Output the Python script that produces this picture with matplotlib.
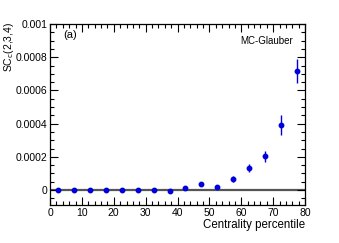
import matplotlib
matplotlib.use("Agg")
import matplotlib.pyplot as plt
from matplotlib.ticker import MultipleLocator, FixedLocator

plt.rcParams['font.family'] = ['Liberation Sans', 'DejaVu Sans']

centrality = [2.5, 7.5, 12.5, 17.5, 22.5, 27.5, 32.5, 37.5,
              42.5, 47.5, 52.5, 57.5, 62.5, 67.5, 72.5, 77.5]
sc_values = [0.0, 0.0, 0.0, 0.0, -0.000001, -0.000002, 0.000001, -0.000005,
             0.00001, 0.000034, 0.000018, 0.000066, 0.000133, 0.000203, 0.000392, 0.000717]
sc_errors = [0.000003, 0.000003, 0.000003, 0.000003, 0.000003, 0.000003, 0.000003, 0.000004,
             0.000006, 0.000008, 0.00001, 0.000018, 0.000026, 0.000032, 0.000058, 0.00007]
xticks = [0, 10, 20, 30, 40, 50, 60, 70, 80]
yticks = [0, 0.0002, 0.0004, 0.0006, 0.0008, 0.001]
ytick_labels = ['0', '0.0002', '0.0004', '0.0006', '0.0008', '0.001']

fig = plt.figure(figsize=(3.39, 2.43), dpi=100)
ax = fig.add_axes([50/339, 1 - 205/243, 255/339, 181/243])

ax.axhline(0, color='#555555', lw=1.6, zorder=1)
ax.errorbar(centrality, sc_values, yerr=sc_errors, fmt='o', color='#0000dd',
            ms=3.2, elinewidth=1.0, capsize=0, zorder=3)

ax.set_xlim(0, 80)
ax.set_ylim(-0.00009, 0.001)
ax.xaxis.set_major_locator(FixedLocator(xticks))
ax.xaxis.set_minor_locator(MultipleLocator(2))
ax.yaxis.set_major_locator(FixedLocator(yticks))
ax.set_yticklabels(ytick_labels)
ax.yaxis.set_minor_locator(MultipleLocator(0.00005))
ax.tick_params(which='both', direction='in', top=True, right=True, labelsize=7.5, pad=2)
ax.tick_params(which='major', length=6, width=0.8)
ax.tick_params(which='minor', length=3, width=0.8)
for s in ax.spines.values():
    s.set_linewidth(0.9)

fig.text(63/339, 1 - 30/243, '(a)', fontsize=8, va='top', ha='left')
fig.text(293/339, 1 - 36/243, 'MC-Glauber', fontsize=7, va='top', ha='right')

fig.text(2/339, 1 - 22/243, 'SC$_{\\rm c}$(2,3,4)', rotation=90, fontsize=7.5, ha='left', va='top')
fig.text(305/339, 1 - 231/243, 'Centrality percentile', fontsize=8.3, ha='right', va='bottom')

fig.savefig('out.png', dpi=100)
